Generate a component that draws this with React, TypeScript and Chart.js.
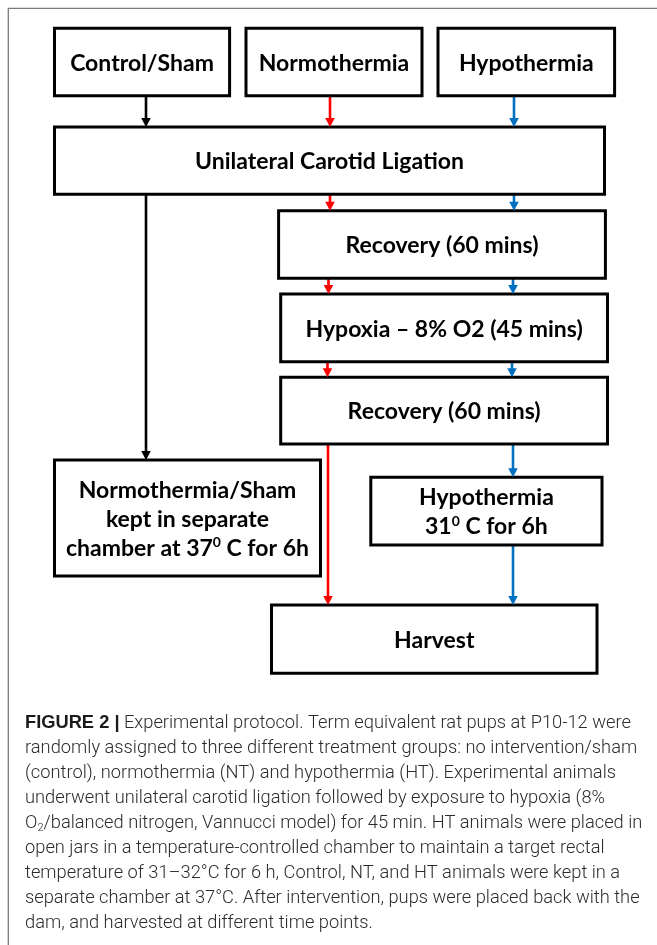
import React, { useEffect, useRef } from "react";
import { Chart, registerables } from "chart.js";

Chart.register(...registerables);

// ---- Flowchart data (in chart units: x 0..657, y 0..945 top-down) ----
const boxLabels: string[][] = [
  ["Control/Sham"],
  ["Normothermia"],
  ["Hypothermia"],
  ["Unilateral Carotid Ligation"],
  ["Recovery (60 mins)"],
  ["Hypoxia – 8% O2 (45 mins)"],
  ["Recovery (60 mins)"],
  ["Normothermia/Sham", "kept in separate", "chamber at 37^0 C for 6h"],
  ["Hypothermia", "31^0 C for 6h"],
  ["Harvest"],
];
const boxLeft = [54.5, 246, 438, 54.5, 278.6, 280.7, 280.7, 54.5, 370.8, 271.5];
const boxRight = [229.6, 422, 614.6, 604.5, 605.4, 607.5, 607.5, 320.5, 602, 597];
const boxTop = [28.3, 28.3, 28.3, 127, 210.7, 294, 377.3, 460, 477.3, 605];
const boxBottom = [95.7, 95.7, 95.7, 194.3, 278.3, 361.7, 444, 576, 545, 673.3];

const groups = ["Control", "NT", "HT"];
const groupColors = ["#000000", "#ff0000", "#0070c0"];

const arrowGroup = [0, 1, 2, 0, 1, 2, 1, 2, 1, 2, 1, 2, 2];
const arrowX = [146, 330, 514, 146, 330, 514, 328.5, 513, 327.5, 512, 328, 513, 513];
const arrowFrom = [95.7, 95.7, 95.7, 194.3, 194.3, 194.3, 278.3, 278.3, 361.7, 361.7, 444, 444, 545];
const arrowTo = [127, 127, 127, 460, 210.7, 210.7, 294, 294, 377.3, 377.3, 605, 477.3, 605];

const captionBold = "FIGURE 2 |";
const captionLines = [
  " Experimental protocol. Term equivalent rat pups at P10-12 were",
  "randomly assigned to three different treatment groups: no intervention/sham",
  "(control), normothermia (NT) and hypothermia (HT). Experimental animals",
  "underwent unilateral carotid ligation followed by exposure to hypoxia (8%",
  "O_2/balanced nitrogen, Vannucci model) for 45 min. HT animals were placed in",
  "open jars in a temperature-controlled chamber to maintain a target rectal",
  "temperature of 31–32°C for 6 h, Control, NT, and HT animals were kept in a",
  "separate chamber at 37°C. After intervention, pups were placed back with the",
  "dam, and harvested at different time points.",
];

const W = 657;
const H = 945;
const BOX_FONT = "Lato, 'Open Sans', sans-serif";
const BOX_SIZE = 23;
const CAP_FONT = "Roboto, 'Liberation Sans', sans-serif";
const CAP_BOLD_FONT = "'Liberation Sans', Arial, sans-serif";
const CAP_SIZE = 18.3;
const CAP_X = 25;
const CAP_Y0 = 727.7;
const CAP_GAP = 25;

type Seg = { t: string; k: number };
function parseSegs(s: string): Seg[] {
  const out: Seg[] = [];
  const re = /\^(.)|_(.)/g;
  let last = 0;
  let m: RegExpExecArray | null;
  while ((m = re.exec(s))) {
    if (m.index > last) out.push({ t: s.slice(last, m.index), k: 0 });
    out.push({ t: m[1] !== undefined ? m[1] : m[2], k: m[1] !== undefined ? 1 : -1 });
    last = re.lastIndex;
  }
  if (last < s.length) out.push({ t: s.slice(last), k: 0 });
  return out;
}

function richWidth(ctx: CanvasRenderingContext2D, s: string, size: number, weight: string, family: string) {
  let w = 0;
  for (const p of parseSegs(s)) {
    ctx.font = `${weight} ${p.k === 0 ? size : Math.round(size * 0.62)}px ${family}`;
    w += ctx.measureText(p.t).width;
  }
  return w;
}

function drawRich(
  ctx: CanvasRenderingContext2D,
  s: string,
  x: number,
  y: number,
  size: number,
  weight: string,
  family: string,
  center: boolean
) {
  const w = richWidth(ctx, s, size, weight, family);
  let cx = center ? x - w / 2 : x;
  for (const p of parseSegs(s)) {
    const sz = p.k === 0 ? size : Math.round(size * 0.62);
    ctx.font = `${weight} ${sz}px ${family}`;
    const dy = p.k === 1 ? -size * 0.36 : p.k === -1 ? size * 0.2 : 0;
    ctx.fillText(p.t, cx, y + dy);
    cx += ctx.measureText(p.t).width;
  }
  return cx;
}

const flowPlugin = {
  id: "flowPlugin",
  beforeDraw(chart: any) {
    const ctx: CanvasRenderingContext2D = chart.ctx;
    const xs = chart.scales.x;
    const ys = chart.scales.y;
    ctx.save();
    ctx.fillStyle = "#ffffff";
    ctx.fillRect(0, 0, chart.width, chart.height);
    // outer frame
    ctx.strokeStyle = "#7a7a7a";
    ctx.lineWidth = 1.3;
    const fx = xs.getPixelForValue(8.3);
    const fy = ys.getPixelForValue(8.3);
    ctx.beginPath();
    ctx.moveTo(xs.getPixelForValue(W + 20), fy);
    ctx.lineTo(fx, fy);
    ctx.lineTo(fx, ys.getPixelForValue(H + 20));
    ctx.stroke();
    ctx.restore();
  },
  afterDatasetsDraw(chart: any) {
    const ctx: CanvasRenderingContext2D = chart.ctx;
    const xs = chart.scales.x;
    const ys = chart.scales.y;
    ctx.save();
    // arrow heads
    for (let i = 0; i < arrowX.length; i++) {
      const x = xs.getPixelForValue(arrowX[i]);
      const y = ys.getPixelForValue(arrowTo[i]);
      ctx.fillStyle = groupColors[arrowGroup[i]];
      ctx.beginPath();
      ctx.moveTo(x, y);
      ctx.lineTo(x - 4.8, y - 9);
      ctx.lineTo(x + 4.8, y - 9);
      ctx.closePath();
      ctx.fill();
    }
    // box labels
    ctx.fillStyle = "#000000";
    ctx.textAlign = "left";
    ctx.textBaseline = "alphabetic";
    const gap = 29;
    for (let i = 0; i < boxLabels.length; i++) {
      const cx = xs.getPixelForValue((boxLeft[i] + boxRight[i]) / 2);
      const cy = ys.getPixelForValue((boxTop[i] + boxBottom[i]) / 2);
      const lines = boxLabels[i];
      const n = lines.length;
      lines.forEach((ln, j) => {
        const y = cy + (j - (n - 1) / 2) * gap + BOX_SIZE * 0.38;
        drawRich(ctx, ln, cx, y, BOX_SIZE, "bold", BOX_FONT, true);
      });
    }
    // caption
    ctx.fillStyle = "#2b2b2b";
    const x0 = xs.getPixelForValue(CAP_X);
    captionLines.forEach((ln, j) => {
      const y = ys.getPixelForValue(CAP_Y0 + j * CAP_GAP);
      let x = x0;
      const anyCtx = ctx as any;
      if (j === 0) {
        ctx.font = `bold ${CAP_SIZE}px ${CAP_BOLD_FONT}`;
        ctx.fillStyle = "#1a1a1a";
        ctx.fillText(captionBold, x, y);
        x += ctx.measureText(captionBold).width;
        ctx.fillStyle = "#2b2b2b";
        anyCtx.wordSpacing = "3.3px";
      } else {
        anyCtx.wordSpacing = "0px";
      }
      drawRich(ctx, ln, x, y, CAP_SIZE, "300", CAP_FONT, false);
    });
    (ctx as any).wordSpacing = "0px";
    ctx.restore();
  },
};

export default function App() {
  const ref = useRef<HTMLCanvasElement | null>(null);
  useEffect(() => {
    document.body.style.margin = "0";
    const canvas = ref.current;
    if (!canvas) return;
    const datasets: any[] = [];
    for (let i = 0; i < boxLabels.length; i++) {
      datasets.push({
        label: boxLabels[i].join(" "),
        data: [
          { x: boxLeft[i], y: boxTop[i] },
          { x: boxRight[i], y: boxTop[i] },
          { x: boxRight[i], y: boxBottom[i] },
          { x: boxLeft[i], y: boxBottom[i] },
          { x: boxLeft[i], y: boxTop[i] },
        ],
        showLine: true,
        borderColor: "#000000",
        borderWidth: 3,
        borderJoinStyle: "miter",
        borderCapStyle: "square",
        pointRadius: 0,
        fill: false,
        tension: 0,
      });
    }
    for (let i = 0; i < arrowX.length; i++) {
      datasets.push({
        label: groups[arrowGroup[i]],
        data: [
          { x: arrowX[i], y: arrowFrom[i] },
          { x: arrowX[i], y: arrowTo[i] - 6 },
        ],
        showLine: true,
        borderColor: groupColors[arrowGroup[i]],
        borderWidth: 2.6,
        borderCapStyle: "butt",
        pointRadius: 0,
        fill: false,
        tension: 0,
      });
    }
    const chart = new Chart(canvas, {
      type: "scatter",
      data: { datasets },
      options: {
        animation: false,
        responsive: false,
        events: [],
        layout: { padding: 0 },
        plugins: { legend: { display: false }, tooltip: { enabled: false } },
        scales: {
          x: { type: "linear", min: 0, max: W, display: false },
          y: { type: "linear", min: 0, max: H, reverse: true, display: false },
        },
      },
      plugins: [flowPlugin],
    });
    let alive = true;
    if ((document as any).fonts && (document as any).fonts.ready) {
      (document as any).fonts.ready.then(() => {
        if (alive) chart.draw();
      });
    }
    return () => {
      alive = false;
      chart.destroy();
    };
  }, []);
  return (
    <div style={{ width: W, height: H, position: "relative" }}>
      <canvas ref={ref} width={W} height={H} style={{ display: "block", width: W, height: H }} />
    </div>
  );
}
